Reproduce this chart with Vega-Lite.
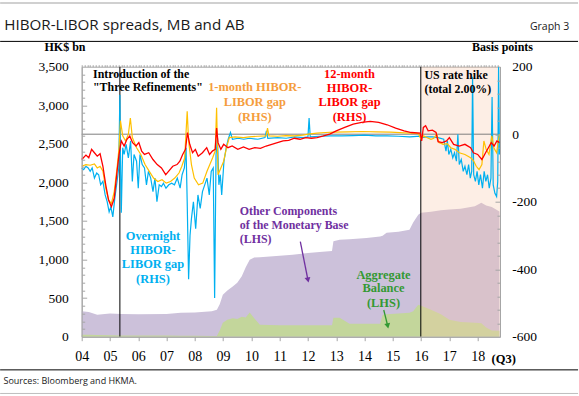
{
"$schema": "https://vega.github.io/schema/vega-lite/v6.json",
"width": 418.3, "height": 270,
"autosize": {"type": "none"},
"padding": {"left": 81.7, "top": 66.7, "right": 79, "bottom": 59.3},
"background": "white",
"config": {"view": {"stroke": "#a6a6a6", "strokeWidth": 1}, "axis": {"grid": false}},
"datasets": {
"base": [
{"d":2004.0,"mb":330,"ab":25},{"d":2004.25,"mb":320,"ab":25},{"d":2004.55,"mb":285,"ab":22},{"d":2005.0,"mb":300,"ab":20},{"d":2005.4,"mb":295,"ab":15},{"d":2006.0,"mb":290,"ab":15},{"d":2007.0,"mb":295,"ab":15},{"d":2007.5,"mb":310,"ab":12},{"d":2008.0,"mb":315,"ab":12},{"d":2008.6,"mb":330,"ab":10},{"d":2008.78,"mb":350,"ab":10},{"d":2008.88,"mb":420,"ab":80},{"d":2008.99,"mb":545,"ab":181},{"d":2009.15,"mb":600,"ab":220},{"d":2009.34,"mb":652,"ab":240},{"d":2009.5,"mb":700,"ab":230},{"d":2009.66,"mb":782,"ab":260},{"d":2009.8,"mb":900,"ab":250},{"d":2009.94,"mb":998,"ab":315},{"d":2010.1,"mb":1028,"ab":240},{"d":2010.3,"mb":1030,"ab":155},{"d":2011.0,"mb":1050,"ab":150},{"d":2011.46,"mb":1063,"ab":150},{"d":2012.0,"mb":1085,"ab":148},{"d":2012.41,"mb":1097,"ab":147},{"d":2012.85,"mb":1110,"ab":147},{"d":2012.9,"mb":1236,"ab":246},{"d":2013.12,"mb":1257,"ab":246},{"d":2013.47,"mb":1263,"ab":168},{"d":2014.07,"mb":1279,"ab":168},{"d":2014.55,"mb":1300,"ab":168},{"d":2014.64,"mb":1310,"ab":285},{"d":2014.78,"mb":1348,"ab":290},{"d":2015.2,"mb":1360,"ab":300},{"d":2015.59,"mb":1387,"ab":311},{"d":2015.72,"mb":1480,"ab":330},{"d":2015.9,"mb":1581,"ab":415},{"d":2016.0,"mb":1607,"ab":400},{"d":2016.35,"mb":1620,"ab":350},{"d":2016.7,"mb":1640,"ab":290},{"d":2017.0,"mb":1650,"ab":220},{"d":2017.4,"mb":1660,"ab":190},{"d":2017.9,"mb":1690,"ab":180},{"d":2018.13,"mb":1737,"ab":175},{"d":2018.3,"mb":1700,"ab":120},{"d":2018.5,"mb":1680,"ab":80},{"d":2018.77,"mb":1624,"ab":76}
],
"on": [
{"d":2004.0,"v":-100},{"d":2004.07,"v":-105},{"d":2004.15,"v":-95},{"d":2004.23,"v":-100},{"d":2004.3,"v":-110},{"d":2004.37,"v":-100},{"d":2004.45,"v":-130},{"d":2004.53,"v":-115},{"d":2004.6,"v":-120},{"d":2004.67,"v":-150},{"d":2004.75,"v":-140},{"d":2004.83,"v":-180},{"d":2004.9,"v":-200},{"d":2004.97,"v":-230},{"d":2005.03,"v":-215},{"d":2005.1,"v":-245},{"d":2005.17,"v":-190},{"d":2005.25,"v":-140},{"d":2005.31,"v":-100},{"d":2005.35,"v":117},{"d":2005.37,"v":-60},{"d":2005.4,"v":-233},{"d":2005.45,"v":-40},{"d":2005.5,"v":-60},{"d":2005.57,"v":-30},{"d":2005.65,"v":-70},{"d":2005.73,"v":-20},{"d":2005.79,"v":-140},{"d":2005.85,"v":-60},{"d":2005.94,"v":-80},{"d":2006.0,"v":-160},{"d":2006.06,"v":-60},{"d":2006.14,"v":-90},{"d":2006.22,"v":-100},{"d":2006.29,"v":-150},{"d":2006.36,"v":-110},{"d":2006.44,"v":-130},{"d":2006.52,"v":-170},{"d":2006.59,"v":-130},{"d":2006.66,"v":-200},{"d":2006.74,"v":-150},{"d":2006.82,"v":-155},{"d":2006.89,"v":-145},{"d":2006.98,"v":-160},{"d":2007.08,"v":-150},{"d":2007.18,"v":-145},{"d":2007.28,"v":-150},{"d":2007.38,"v":-130},{"d":2007.48,"v":-160},{"d":2007.55,"v":-120},{"d":2007.63,"v":-100},{"d":2007.69,"v":-40},{"d":2007.73,"v":-200},{"d":2007.78,"v":-430},{"d":2007.83,"v":-300},{"d":2007.88,"v":-250},{"d":2007.95,"v":-200},{"d":2008.03,"v":-280},{"d":2008.11,"v":-180},{"d":2008.19,"v":-220},{"d":2008.27,"v":-170},{"d":2008.35,"v":-150},{"d":2008.43,"v":-130},{"d":2008.51,"v":-180},{"d":2008.58,"v":-110},{"d":2008.65,"v":-100},{"d":2008.7,"v":-485},{"d":2008.75,"v":-60},{"d":2008.8,"v":-10},{"d":2008.85,"v":-150},{"d":2008.9,"v":-120},{"d":2008.95,"v":-180},{"d":2009.03,"v":-80},{"d":2009.11,"v":-40},{"d":2009.18,"v":-15},{"d":2009.26,"v":5},{"d":2009.33,"v":-15},{"d":2009.53,"v":-12},{"d":2009.73,"v":-15},{"d":2009.93,"v":-12},{"d":2010.23,"v":-15},{"d":2010.48,"v":-10},{"d":2010.53,"v":10},{"d":2010.58,"v":-12},{"d":2010.93,"v":-10},{"d":2011.23,"v":-12},{"d":2011.53,"v":-8},{"d":2011.83,"v":-10},{"d":2012.0,"v":-8},{"d":2012.04,"v":48},{"d":2012.08,"v":-8},{"d":2012.4,"v":-6},{"d":2012.8,"v":-5},{"d":2013.2,"v":-5},{"d":2013.6,"v":-4},{"d":2014.0,"v":-3},{"d":2014.4,"v":-5},{"d":2014.8,"v":-5},{"d":2015.2,"v":-6},{"d":2015.6,"v":-8},{"d":2015.97,"v":-6},{"d":2016.0,"v":-10},{"d":2016.2,"v":-8},{"d":2016.4,"v":-8},{"d":2016.6,"v":-10},{"d":2016.8,"v":-15},{"d":2016.88,"v":-50},{"d":2016.93,"v":-20},{"d":2016.98,"v":-60},{"d":2017.05,"v":-45},{"d":2017.12,"v":-70},{"d":2017.18,"v":-55},{"d":2017.25,"v":-80},{"d":2017.3,"v":0},{"d":2017.35,"v":-90},{"d":2017.42,"v":-75},{"d":2017.49,"v":-110},{"d":2017.55,"v":-95},{"d":2017.62,"v":-120},{"d":2017.68,"v":-90},{"d":2017.74,"v":-130},{"d":2017.79,"v":-110},{"d":2017.82,"v":170},{"d":2017.86,"v":-120},{"d":2017.92,"v":-140},{"d":2017.98,"v":-110},{"d":2018.04,"v":-150},{"d":2018.1,"v":-120},{"d":2018.17,"v":-160},{"d":2018.23,"v":-110},{"d":2018.29,"v":-140},{"d":2018.35,"v":-120},{"d":2018.41,"v":-160},{"d":2018.47,"v":-130},{"d":2018.51,"v":110},{"d":2018.55,"v":-150},{"d":2018.61,"v":-175},{"d":2018.67,"v":-185},{"d":2018.71,"v":-140},{"d":2018.74,"v":200},{"d":2018.77,"v":-60}
],
"m1": [
{"d":2004.0,"v":-95},{"d":2004.15,"v":-90},{"d":2004.3,"v":-92},{"d":2004.45,"v":-88},{"d":2004.55,"v":-100},{"d":2004.65,"v":-95},{"d":2004.75,"v":-110},{"d":2004.85,"v":-160},{"d":2004.95,"v":-195},{"d":2005.05,"v":-205},{"d":2005.15,"v":-170},{"d":2005.25,"v":-100},{"d":2005.32,"v":-40},{"d":2005.37,"v":40},{"d":2005.45,"v":-5},{"d":2005.55,"v":-20},{"d":2005.65,"v":0},{"d":2005.72,"v":48},{"d":2005.79,"v":-10},{"d":2005.94,"v":-40},{"d":2006.09,"v":-60},{"d":2006.24,"v":-90},{"d":2006.39,"v":-110},{"d":2006.54,"v":-130},{"d":2006.69,"v":-140},{"d":2006.84,"v":-135},{"d":2006.99,"v":-145},{"d":2007.14,"v":-140},{"d":2007.29,"v":-130},{"d":2007.44,"v":-115},{"d":2007.54,"v":-95},{"d":2007.64,"v":-70},{"d":2007.73,"v":68},{"d":2007.78,"v":-20},{"d":2007.88,"v":-90},{"d":2007.98,"v":-130},{"d":2008.13,"v":-150},{"d":2008.28,"v":-145},{"d":2008.43,"v":-110},{"d":2008.53,"v":-90},{"d":2008.63,"v":-70},{"d":2008.72,"v":-50},{"d":2008.77,"v":78},{"d":2008.82,"v":-120},{"d":2008.92,"v":-100},{"d":2009.02,"v":-80},{"d":2009.12,"v":-40},{"d":2009.22,"v":-10},{"d":2009.42,"v":-8},{"d":2009.72,"v":-10},{"d":2009.92,"v":-8},{"d":2010.22,"v":-6},{"d":2010.52,"v":-5},{"d":2010.57,"v":18},{"d":2010.62,"v":-5},{"d":2010.92,"v":-6},{"d":2011.22,"v":-4},{"d":2011.52,"v":-5},{"d":2011.82,"v":-3},{"d":2012.02,"v":0},{"d":2012.32,"v":3},{"d":2012.62,"v":5},{"d":2012.92,"v":6},{"d":2013.42,"v":7},{"d":2013.92,"v":8},{"d":2014.42,"v":7},{"d":2014.92,"v":6},{"d":2015.42,"v":4},{"d":2015.9,"v":2},{"d":2016.0,"v":-15},{"d":2016.08,"v":-5},{"d":2016.2,"v":-10},{"d":2016.35,"v":-15},{"d":2016.45,"v":-12},{"d":2016.55,"v":0},{"d":2016.63,"v":-25},{"d":2016.78,"v":-30},{"d":2016.92,"v":-28},{"d":2017.05,"v":-40},{"d":2017.2,"v":-45},{"d":2017.35,"v":-55},{"d":2017.55,"v":-60},{"d":2017.75,"v":-70},{"d":2017.85,"v":-78},{"d":2017.95,"v":-95},{"d":2018.05,"v":-105},{"d":2018.15,"v":-90},{"d":2018.22,"v":-20},{"d":2018.3,"v":-45},{"d":2018.4,"v":-60},{"d":2018.5,"v":-5},{"d":2018.57,"v":-40},{"d":2018.67,"v":-55},{"d":2018.77,"v":0}
],
"m12": [
{"d":2004.0,"v":-75},{"d":2004.15,"v":-62},{"d":2004.25,"v":-70},{"d":2004.35,"v":-45},{"d":2004.45,"v":-55},{"d":2004.55,"v":-65},{"d":2004.65,"v":-58},{"d":2004.75,"v":-95},{"d":2004.85,"v":-150},{"d":2004.95,"v":-195},{"d":2005.05,"v":-215},{"d":2005.15,"v":-190},{"d":2005.25,"v":-110},{"d":2005.32,"v":-60},{"d":2005.4,"v":-20},{"d":2005.5,"v":-35},{"d":2005.6,"v":-15},{"d":2005.7,"v":-5},{"d":2005.8,"v":-25},{"d":2005.92,"v":-35},{"d":2006.02,"v":-25},{"d":2006.12,"v":-50},{"d":2006.22,"v":-60},{"d":2006.37,"v":-55},{"d":2006.52,"v":-75},{"d":2006.67,"v":-90},{"d":2006.82,"v":-100},{"d":2006.97,"v":-120},{"d":2007.07,"v":-110},{"d":2007.22,"v":-95},{"d":2007.37,"v":-90},{"d":2007.47,"v":-80},{"d":2007.57,"v":-60},{"d":2007.67,"v":-45},{"d":2007.74,"v":5},{"d":2007.82,"v":-30},{"d":2007.92,"v":-55},{"d":2008.02,"v":-45},{"d":2008.12,"v":-65},{"d":2008.27,"v":-55},{"d":2008.42,"v":-40},{"d":2008.52,"v":-60},{"d":2008.62,"v":-50},{"d":2008.72,"v":-45},{"d":2008.77,"v":18},{"d":2008.82,"v":-25},{"d":2008.92,"v":-45},{"d":2009.02,"v":-30},{"d":2009.17,"v":-40},{"d":2009.32,"v":-35},{"d":2009.52,"v":-45},{"d":2009.72,"v":-38},{"d":2009.92,"v":-45},{"d":2010.12,"v":-40},{"d":2010.32,"v":-42},{"d":2010.52,"v":-35},{"d":2010.72,"v":-30},{"d":2010.92,"v":-25},{"d":2011.12,"v":-20},{"d":2011.32,"v":-18},{"d":2011.52,"v":-12},{"d":2011.72,"v":-15},{"d":2011.92,"v":-10},{"d":2012.12,"v":-12},{"d":2012.32,"v":-10},{"d":2012.52,"v":-6},{"d":2012.77,"v":0},{"d":2013.0,"v":10},{"d":2013.3,"v":20},{"d":2013.6,"v":30},{"d":2013.9,"v":35},{"d":2014.2,"v":38},{"d":2014.5,"v":35},{"d":2014.8,"v":28},{"d":2015.1,"v":18},{"d":2015.4,"v":10},{"d":2015.65,"v":5},{"d":2015.97,"v":3},{"d":2016.02,"v":-20},{"d":2016.08,"v":20},{"d":2016.16,"v":25},{"d":2016.25,"v":10},{"d":2016.4,"v":12},{"d":2016.53,"v":5},{"d":2016.6,"v":-22},{"d":2016.75,"v":-25},{"d":2016.9,"v":-20},{"d":2017.0,"v":-10},{"d":2017.15,"v":-30},{"d":2017.35,"v":-35},{"d":2017.55,"v":-30},{"d":2017.75,"v":-40},{"d":2017.85,"v":-55},{"d":2018.0,"v":-60},{"d":2018.15,"v":-75},{"d":2018.28,"v":-55},{"d":2018.38,"v":-40},{"d":2018.48,"v":-25},{"d":2018.58,"v":-35},{"d":2018.68,"v":-20},{"d":2018.77,"v":-25}
],
"events": [{"e":2005.35},{"e":2015.99}],
"notesCenter": [
{"x":2010.12,"y":3237,"t":"1-month HIBOR-","k":"1-month"},
{"x":2010.12,"y":3042,"t":"LIBOR gap","k":"1-month"},
{"x":2010.12,"y":2847,"t":"(RHS)","k":"1-month"},
{"x":2013.47,"y":3405,"t":"12-month","k":"12-month"},
{"x":2013.47,"y":3224,"t":"HIBOR-","k":"12-month"},
{"x":2013.47,"y":3042,"t":"LIBOR gap","k":"12-month"},
{"x":2013.47,"y":2847,"t":"(RHS)","k":"12-month"},
{"x":2006.52,"y":1306,"t":"Overnight","k":"overnight"},
{"x":2006.52,"y":1125,"t":"HIBOR-","k":"overnight"},
{"x":2006.52,"y":943,"t":"LIBOR gap","k":"overnight"},
{"x":2006.52,"y":748,"t":"(RHS)","k":"overnight"},
{"x":2014.67,"y":800,"t":"Aggregate","k":"ab"},
{"x":2014.67,"y":631,"t":"Balance","k":"ab"},
{"x":2014.67,"y":437,"t":"(LHS)","k":"ab"}
],
"notesLeft": [
{"x":2004.4,"y":3405,"t":"Introduction of the","k":"event"},
{"x":2004.4,"y":3237,"t":"\"Three Refinements\"","k":"event"},
{"x":2016.12,"y":3392,"t":"US rate hike","k":"event"},
{"x":2016.12,"y":3211,"t":"(total 2.00%)","k":"event"},
{"x":2009.59,"y":1629,"t":"Other Components","k":"other"},
{"x":2009.59,"y":1448,"t":"of the Monetary Base","k":"other"},
{"x":2009.59,"y":1267,"t":"(LHS)","k":"other"}
],
"arrows": [
{"x":2011.73,"y":1231,"x2":2012.0,"y2":735,"k":"other"},
{"x":2014.68,"y":346,"x2":2014.82,"y2":139,"k":"ab"}
]
},
"layer": [
{
"layer": [
{"data": {"name": "base"},
 "mark": {"type": "area", "color": "#ccc1da"},
 "encoding": {
  "x": {"field": "d", "type": "quantitative", "scale": {"domain": [2004, 2018.79], "nice": false, "zero": false},
   "axis": {"values": [2004,2005,2006,2007,2008,2009,2010,2011,2012,2013,2014,2015,2016,2017,2018], "labelExpr": "substring(toString(datum.value), 2, 4)", "labelFont": "Liberation Serif", "labelFontSize": 14, "labelColor": "#000000", "labelPadding": 9, "tickSize": 4, "tickColor": "#a6a6a6", "domainColor": "#a6a6a6", "labelFlush": false, "labelOverlap": false, "zindex": 1,
    "title": "Sources: Bloomberg and HKMA.", "titleFont": "Open Sans", "titleFontSize": 9, "titleFontWeight": "normal", "titleColor": "#1a1a1a", "titleX": -78.7, "titleY": 47, "titleAlign": "left", "titleAnchor": "start", "titleBaseline": "alphabetic"}},
  "y": {"field": "mb", "type": "quantitative", "scale": {"domain": [0, 3500], "nice": false},
   "axis": {"orient": "left", "values": [0,500,1000,1500,2000,2500,3000,3500], "labelExpr": "format(datum.value, ',')", "ticks": false, "labelPadding": 13.4, "labelFont": "Liberation Serif", "labelFontSize": 13.5, "labelColor": "#000000", "domainColor": "#a6a6a6", "zindex": 1,
    "title": "HK$ bn", "titleAngle": 0, "titleX": -37.7, "titleY": -15.7, "titleAlign": "left", "titleBaseline": "alphabetic", "titleFont": "Liberation Serif", "titleFontSize": 12, "titleFontWeight": "bold", "titleColor": "#000000"}}
 }},
{"data": {"name": "base"},
 "mark": {"type": "area", "color": "#c3d69b"},
 "encoding": {
  "x": {"field": "d", "type": "quantitative", "scale": {"domain": [2004, 2018.79], "nice": false, "zero": false}, "axis": null},
  "y": {"field": "ab", "type": "quantitative", "scale": {"domain": [0, 3500], "nice": false}, "axis": null}
 }},
{"data": {"values": [{}]},
 "mark": {"type": "rect", "color": "#f9c8a8", "opacity": 0.3},
 "encoding": {
  "x": {"datum": 2015.99, "type": "quantitative", "scale": {"domain": [2004, 2018.79], "nice": false, "zero": false},
   "axis": {"tickCount": 150, "labels": false, "domain": false, "tickSize": 2, "tickColor": "#a6a6a6", "title": null, "zindex": 1}},
  "x2": {"datum": 2018.79},
  "y": {"datum": 0, "type": "quantitative", "scale": {"domain": [0, 3500], "nice": false},
   "axis": {"orient": "left", "values": [100,200,300,400,600,700,800,900,1100,1200,1300,1400,1600,1700,1800,1900,2100,2200,2300,2400,2600,2700,2800,2900,3100,3200,3300,3400], "labels": false, "domain": false, "tickSize": -3, "tickColor": "#a6a6a6", "title": null, "zindex": 1}},
  "y2": {"datum": 3500}
 }},
{"data": {"name": "events"},
 "mark": {"type": "rule", "color": "#000000", "strokeWidth": 1},
 "encoding": {
  "x": {"field": "e", "type": "quantitative", "scale": {"domain": [2004, 2018.79], "nice": false, "zero": false}, "axis": null},
  "y": {"datum": 0, "type": "quantitative", "scale": {"domain": [0, 3500], "nice": false},
   "axis": {"orient": "left", "values": [500,1000,1500,2000,2500,3000], "labels": false, "domain": false, "tickSize": -5, "tickColor": "#a6a6a6", "title": null, "zindex": 1}},
  "y2": {"datum": 3500}
 }}
],
"resolve": {"axis": {"x": "independent", "y": "independent"}}
},
{
"layer": [
{"data": {"values": [{}]},
 "mark": {"type": "rule", "color": "#7f7f7f", "strokeWidth": 1},
 "encoding": {
  "y": {"datum": 0, "type": "quantitative", "scale": {"domain": [-600, 200], "nice": false, "zero": false},
   "axis": {"orient": "right", "values": [-600,-400,-200,0,200], "labelExpr": "toString(datum.value)", "ticks": false, "labelPadding": 11.7, "labelFont": "Liberation Serif", "labelFontSize": 13.5, "labelColor": "#000000", "domainColor": "#a6a6a6", "zindex": 1,
    "title": "Basis points", "titleAngle": 0, "titleX": 32.5, "titleY": -15.7, "titleAlign": "right", "titleBaseline": "alphabetic", "titleFont": "Liberation Serif", "titleFontSize": 12, "titleFontWeight": "bold", "titleColor": "#000000"}}
 }},
{"data": {"name": "on"},
 "mark": {"type": "line", "color": "#00b0f0", "strokeWidth": 1.2},
 "encoding": {
  "x": {"field": "d", "type": "quantitative", "scale": {"domain": [2004, 2018.79], "nice": false, "zero": false}, "axis": null},
  "y": {"field": "v", "type": "quantitative", "scale": {"domain": [-600, 200], "nice": false, "zero": false},
   "axis": {"orient": "right", "values": [-560,-520,-480,-440,-360,-320,-280,-240,-160,-120,-80,-40,40,80,120,160], "labels": false, "domain": false, "tickSize": -3, "tickColor": "#a6a6a6", "title": null, "zindex": 1}}
 }},
{"data": {"name": "m1"},
 "mark": {"type": "line", "color": "#ffc000", "strokeWidth": 1.2},
 "encoding": {
  "x": {"field": "d", "type": "quantitative", "scale": {"domain": [2004, 2018.79], "nice": false, "zero": false}, "axis": null},
  "y": {"field": "v", "type": "quantitative", "scale": {"domain": [-600, 200], "nice": false, "zero": false},
   "axis": {"orient": "right", "values": [-400,-200,0], "labels": false, "domain": false, "tickSize": -5, "tickColor": "#a6a6a6", "title": null, "zindex": 1}}
 }},
{"data": {"name": "m12"},
 "mark": {"type": "line", "color": "#ff0000", "strokeWidth": 1.3},
 "encoding": {
  "x": {"field": "d", "type": "quantitative", "scale": {"domain": [2004, 2018.79], "nice": false, "zero": false}, "axis": null},
  "y": {"field": "v", "type": "quantitative", "scale": {"domain": [-600, 200], "nice": false, "zero": false}, "axis": null}
 }}
],
"resolve": {"axis": {"y": "independent"}}
},
{
"layer": [
{"data": {"name": "notesCenter"},
 "mark": {"type": "text", "align": "center", "baseline": "middle", "font": "Liberation Serif", "fontWeight": "bold", "fontSize": 12.4},
 "encoding": {
  "x": {"field": "x", "type": "quantitative", "scale": {"domain": [2004, 2018.79], "nice": false, "zero": false}, "axis": null},
  "y": {"field": "y", "type": "quantitative", "scale": {"domain": [0, 3500], "nice": false}, "axis": null},
  "text": {"field": "t"},
  "color": {"field": "k", "type": "nominal", "legend": null, "scale": {"domain": ["event","1-month","12-month","overnight","other","ab"], "range": ["#000000","#f59d3d","#ff0000","#00b0f0","#7030a0","#339933"]}}
 }},
{"data": {"name": "notesLeft"},
 "mark": {"type": "text", "align": "left", "baseline": "middle", "font": "Liberation Serif", "fontWeight": "bold", "fontSize": 11.9},
 "encoding": {
  "x": {"field": "x", "type": "quantitative", "scale": {"domain": [2004, 2018.79], "nice": false, "zero": false}, "axis": null},
  "y": {"field": "y", "type": "quantitative", "scale": {"domain": [0, 3500], "nice": false}, "axis": null},
  "text": {"field": "t"},
  "color": {"field": "k", "type": "nominal", "legend": null, "scale": {"domain": ["event","1-month","12-month","overnight","other","ab"], "range": ["#000000","#f59d3d","#ff0000","#00b0f0","#7030a0","#339933"]}}
 }},
{"data": {"name": "arrows"},
 "mark": {"type": "rule", "strokeWidth": 1.3},
 "encoding": {
  "x": {"field": "x", "type": "quantitative", "scale": {"domain": [2004, 2018.79], "nice": false, "zero": false}, "axis": null},
  "y": {"field": "y", "type": "quantitative", "scale": {"domain": [0, 3500], "nice": false}, "axis": null},
  "x2": {"field": "x2"}, "y2": {"field": "y2"},
  "color": {"field": "k", "type": "nominal", "legend": null, "scale": {"domain": ["event","1-month","12-month","overnight","other","ab"], "range": ["#000000","#f59d3d","#ff0000","#00b0f0","#7030a0","#339933"]}}
 }},
{"data": {"name": "arrows"},
 "mark": {"type": "point", "shape": "triangle-down", "filled": true, "size": 35, "opacity": 1, "angle": 348},
 "encoding": {
  "x": {"field": "x2", "type": "quantitative", "scale": {"domain": [2004, 2018.79], "nice": false, "zero": false}, "axis": null},
  "y": {"field": "y2", "type": "quantitative", "scale": {"domain": [0, 3500], "nice": false}, "axis": null},
  "color": {"field": "k", "type": "nominal", "legend": null, "scale": {"domain": ["event","1-month","12-month","overnight","other","ab"], "range": ["#000000","#f59d3d","#ff0000","#00b0f0","#7030a0","#339933"]}}
 }},
{"data": {"values": [{}]},
 "mark": {"type": "text", "align": "left", "baseline": "alphabetic", "font": "Liberation Serif", "fontWeight": "bold", "fontSize": 12.5, "color": "#000000", "text": "(Q3)"},
 "encoding": {
  "x": {"datum": 2018.49, "type": "quantitative", "scale": {"domain": [2004, 2018.79], "nice": false, "zero": false}, "axis": null},
  "y": {"datum": -345, "type": "quantitative", "scale": {"domain": [0, 3500], "nice": false}, "axis": null}
 }},
{"data": {"values": [{}]},
 "mark": {"type": "text", "align": "left", "baseline": "alphabetic", "font": "Open Sans", "fontSize": 15.2, "color": "#1a1a1a", "text": "HIBOR-LIBOR spreads, MB and AB"},
 "encoding": {
  "x": {"datum": 2001.26, "type": "quantitative", "scale": {"domain": [2004, 2018.79], "nice": false, "zero": false}, "axis": null},
  "y": {"datum": 3972, "type": "quantitative", "scale": {"domain": [0, 3500], "nice": false}, "axis": null}
 }},
{"data": {"values": [{}]},
 "mark": {"type": "text", "align": "right", "baseline": "alphabetic", "font": "Open Sans", "fontSize": 10.5, "color": "#1a1a1a", "text": "Graph 3"},
 "encoding": {
  "x": {"datum": 2021.24, "type": "quantitative", "scale": {"domain": [2004, 2018.79], "nice": false, "zero": false}, "axis": null},
  "y": {"datum": 3972, "type": "quantitative", "scale": {"domain": [0, 3500], "nice": false}, "axis": null}
 }},
{"data": {"values": [{}]},
 "mark": {"type": "rule", "color": "#d0d0d0", "strokeWidth": 2},
 "encoding": {
  "x": {"datum": 2001.116, "type": "quantitative", "scale": {"domain": [2004, 2018.79], "nice": false, "zero": false}, "axis": null},
  "x2": {"datum": 2021.55},
  "y": {"datum": 4326, "type": "quantitative", "scale": {"domain": [0, 3500], "nice": false}, "axis": null}
 }},
{"data": {"values": [{}]},
 "mark": {"type": "rule", "color": "#000000", "strokeWidth": 1},
 "encoding": {
  "x": {"datum": 2001.116, "type": "quantitative", "scale": {"domain": [2004, 2018.79], "nice": false, "zero": false}, "axis": null},
  "x2": {"datum": 2021.55},
  "y": {"datum": 3828, "type": "quantitative", "scale": {"domain": [0, 3500], "nice": false}, "axis": null}
 }},
{"data": {"values": [{}]},
 "mark": {"type": "rule", "color": "#000000", "strokeWidth": 1},
 "encoding": {
  "x": {"datum": 2001.116, "type": "quantitative", "scale": {"domain": [2004, 2018.79], "nice": false, "zero": false}, "axis": null},
  "x2": {"datum": 2021.55},
  "y": {"datum": -430, "type": "quantitative", "scale": {"domain": [0, 3500], "nice": false}, "axis": null}
 }},
{"data": {"values": [{}]},
 "mark": {"type": "rule", "color": "#bfbfbf", "strokeWidth": 1},
 "encoding": {
  "x": {"datum": 2001.116, "type": "quantitative", "scale": {"domain": [2004, 2018.79], "nice": false, "zero": false}, "axis": null},
  "x2": {"datum": 2021.55},
  "y": {"datum": -736, "type": "quantitative", "scale": {"domain": [0, 3500], "nice": false}, "axis": null}
 }}
]
}
],
"resolve": {"scale": {"y": "independent", "color": "independent"}, "axis": {"x": "independent", "y": "independent"}}
}
